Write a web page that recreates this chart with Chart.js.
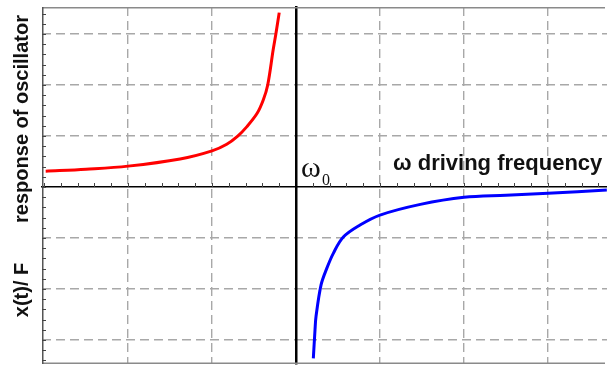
<!DOCTYPE html>
<html>
<head>
<meta charset="utf-8">
<script src="https://cdn.jsdelivr.net/npm/chart.js@4.4.1/dist/chart.umd.min.js"></script>
<style>
  html, body { margin: 0; padding: 0; background: #fff; overflow: hidden; }
  canvas { display: block; }
</style>
</head>
<body>
<canvas id="resonanceChart" width="607" height="365"></canvas>
<script>
    // Curve readings (driving frequency relative to w0, response x/F)
    const belowX = [-2.98, -2.5, -2.0, -1.38, -1.0, -0.825, -0.694, -0.587, -0.461, -0.389, -0.337, -0.272, -0.24, -0.2];
    const belowY = [0.31, 0.35, 0.41, 0.55, 0.71, 0.84, 1.0, 1.18, 1.45, 1.71, 2.0, 2.69, 3.0, 3.42];
    const aboveX = [0.206, 0.226, 0.238, 0.298, 0.365, 0.444, 0.563, 0.762, 1.0, 1.48, 2.0, 2.5, 3.0, 3.7];
    const aboveY = [-3.36, -2.8, -2.54, -1.92, -1.6, -1.3, -0.98, -0.745, -0.55, -0.34, -0.2, -0.16, -0.12, -0.06];

    // Grid (major) tick values
    const xGridTicks = [-2, -1, 0, 1, 2, 3];
    const yGridTicks = [-3, -2, -1, 0, 1, 2, 3];

    const toPoints = (xs, ys) => xs.map((x, i) => ({ x: x, y: ys[i] }));

    // Frame, minor ticks and labels
    const decorPlugin = {
      id: 'decor',
      beforeDatasetsDraw(chart) {
        const { ctx, chartArea: a, scales } = chart;
        const x = scales.x, y = scales.y;
        ctx.save();
        // frame (no right edge)
        ctx.fillStyle = '#8a8a8a';
        ctx.fillRect(a.left, a.top, a.right - a.left - 2, 1.5);
        ctx.fillRect(a.left, a.bottom - 1.5, a.right - a.left - 2, 1.5);
        ctx.fillStyle = '#555';
        ctx.fillRect(a.left, a.top, 1.5, a.bottom - a.top);

        // minor ticks
        ctx.lineWidth = 1;
        ctx.strokeStyle = '#444';
        ctx.beginPath();
        for (let i = -17; i <= 17; i++) {
          const py = Math.round(y.getPixelForValue(i * 0.2)) + 0.5;
          if (py < a.top + 2 || py > a.bottom - 2) continue;
          ctx.moveTo(a.left, py);
          ctx.lineTo(a.left + 4, py);
        }
        const y0 = y.getPixelForValue(0);
        for (let i = -15; i <= 18; i++) {
          if (i === 0) continue;
          const px = Math.round(x.getPixelForValue(i * 0.2)) + 0.5;
          if (px < a.left + 2 || px > a.right - 1) continue;
          ctx.moveTo(px, y0);
          ctx.lineTo(px, y0 - 4);
        }
        ctx.stroke();
        ctx.restore();
      },
      afterDraw(chart) {
        const { ctx } = chart;
        ctx.save();
        ctx.fillStyle = '#111';
        ctx.textBaseline = 'alphabetic';

        // vertical axis label
        ctx.font = 'bold 20px "Liberation Sans", Arial, sans-serif';
        ctx.textAlign = 'center';
        ctx.save();
        ctx.translate(28, 119);
        ctx.rotate(-Math.PI / 2);
        ctx.fillText('response of oscillator', 0, 0);
        ctx.restore();
        ctx.save();
        ctx.translate(28, 290);
        ctx.rotate(-Math.PI / 2);
        ctx.fillText('x(t)/ F', 0, 0);
        ctx.restore();

        // horizontal axis label
        ctx.textAlign = 'left';
        ctx.font = 'bold 22px "Liberation Sans", Arial, sans-serif';
        ctx.fillText('ω driving frequency', 393, 170);

        // w0 marker
        ctx.font = '30px "Liberation Serif", "Times New Roman", serif';
        ctx.fillText('ω', 301, 177);
        ctx.font = '16px "Liberation Serif", "Times New Roman", serif';
        ctx.fillText('0', 322, 185);
        ctx.restore();
      }
    };

    const isGridValue = (v) => Number.isInteger(v) && v !== 0;

    new Chart(document.getElementById('resonanceChart').getContext('2d'), {
      type: 'scatter',
      data: {
        datasets: [{
          label: 'below resonance',
          data: toPoints(belowX, belowY),
          showLine: true,
          borderColor: '#ff0000',
          borderWidth: 3,
          pointRadius: 0,
          tension: 0.35
        }, {
          label: 'above resonance',
          data: toPoints(aboveX, aboveY),
          showLine: true,
          borderColor: '#0000ff',
          borderWidth: 3,
          pointRadius: 0,
          tension: 0.35
        }]
      },
      options: {
        responsive: false,
        animation: false,
        devicePixelRatio: 1,
        layout: { padding: { left: 42, top: 7, right: 0, bottom: 1 } },
        plugins: {
          legend: { display: false },
          tooltip: { enabled: false }
        },
        scales: {
          x: {
            type: 'linear',
            min: -3.024,
            max: 3.702,
            position: { y: 0 },
            afterBuildTicks: (s) => { s.ticks = xGridTicks.map(v => ({ value: v })); },
            ticks: { display: false },
            grid: {
              color: (c) => (c.tick && isGridValue(c.tick.value)) ? '#a8a8a8' : 'rgba(0,0,0,0)',
              lineWidth: 1.4,
              drawTicks: false
            },
            border: { display: true, color: '#000', width: 1.6, dash: [9, 5] }
          },
          y: {
            type: 'linear',
            min: -3.47,
            max: 3.53,
            position: { x: 0 },
            afterBuildTicks: (s) => { s.ticks = yGridTicks.map(v => ({ value: v })); },
            ticks: { display: false },
            grid: {
              color: (c) => (c.tick && isGridValue(c.tick.value)) ? '#a8a8a8' : 'rgba(0,0,0,0)',
              lineWidth: 1.4,
              drawTicks: false
            },
            border: { display: true, color: '#000', width: 2.5, dash: [9, 5] }
          }
        }
      },
      plugins: [decorPlugin]
    });
</script>
</body>
</html>
